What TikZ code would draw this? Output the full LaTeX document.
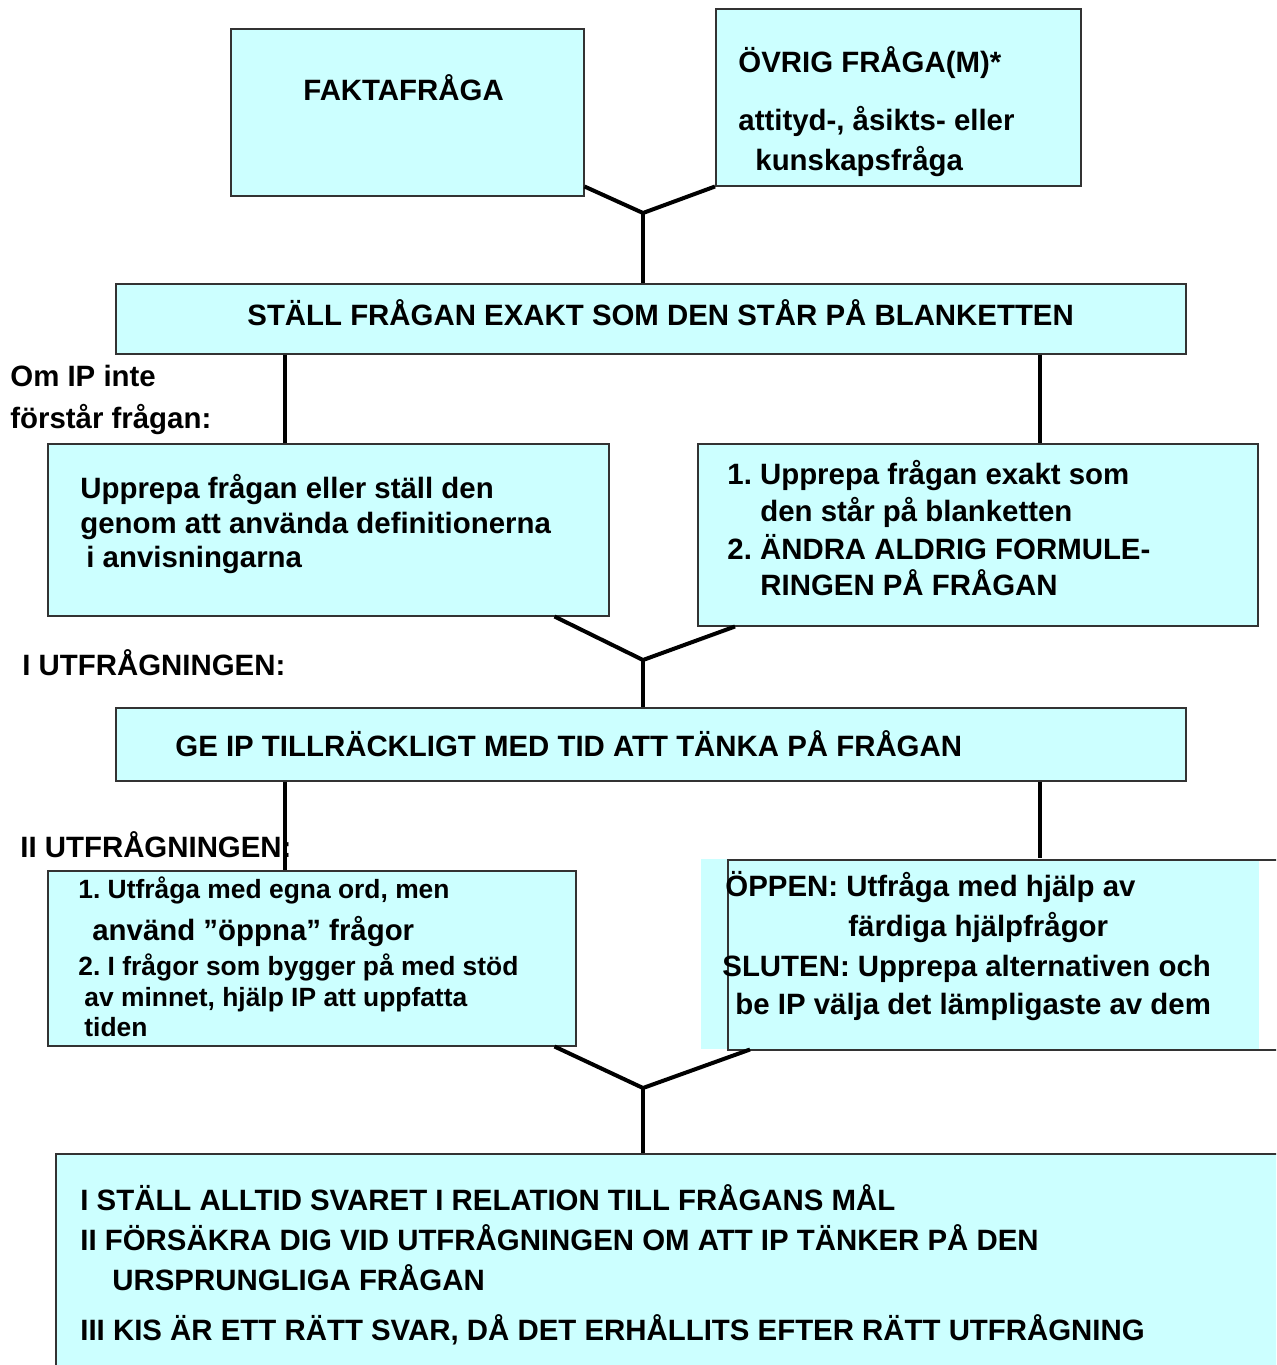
\documentclass[tikz,border=0pt]{standalone}
\usepackage{fontspec}
\setmainfont{Liberation Sans}
\usepackage{tikz}
\usetikzlibrary{positioning}

\definecolor{boxcyan}{RGB}{204,255,255}

\tikzset{
  box/.style={draw=black!80, line width=0.75pt, fill=boxcyan, anchor=north west, inner sep=0pt},
  link/.style={line width=2pt},
  txt/.style={anchor=base west, inner sep=0pt, font=\fontsize{14.7}{17}\selectfont\bfseries},
  small/.style={txt, font=\fontsize{13.2}{15}\selectfont\bfseries}
}

\begin{document}
\frenchspacing
\begin{tikzpicture}[x=0.5pt, y=-0.5pt]
   \useasboundingbox (0,0) rectangle (1276,1365);
   \clip (0,0) rectangle (1276,1365);
   % boxes
   \node[box, minimum width=176.5pt, minimum height=83.5pt] (fakta) at (230,28) {};
   \node[box, minimum width=182.5pt, minimum height=88.5pt] (ovrig) at (715,8) {};
   \node[box, minimum width=535pt, minimum height=35pt] (stall) at (115,283) {};
   \node[box, minimum width=280.5pt, minimum height=86pt] (upprepa) at (47,443) {};
   \node[box, minimum width=280pt, minimum height=91pt] (andra) at (697,443) {};
   \node[box, minimum width=535pt, minimum height=36.5pt] (geip) at (115,707) {};
   \node[box, minimum width=264pt, minimum height=87.5pt] (egna) at (47,870) {};
   \node[box, draw=none, minimum width=279pt, minimum height=95pt] (oppen) at (700,858) {};
   \draw[draw=black!80, line width=0.75pt] (728,860) rectangle (1320,1050);
   \node[box, minimum width=622.5pt, minimum height=125pt] (slut) at (55,1153) {};
   % x positions of the side links
   \coordinate (xl) at (285,0);
   \coordinate (xr) at (1040,0);
   \coordinate (j1) at (643,213);
   \coordinate (j2) at (643,660);
   \coordinate (j3) at (643,1088);
   % connectors
   \draw[link] (fakta.east |- ovrig.south) -- (j1) -- (ovrig.south west);
   \draw[link] (j1) -- (j1 |- stall.north);
   \draw[link] (stall.south -| xl) -- (upprepa.north -| xl);
   \draw[link] (stall.south -| xr) -- (andra.north -| xr);
   \draw[link] ([xshift=-27.5pt]upprepa.south east) -- (j2) -- ([xshift=19pt]andra.south west);
   \draw[link] (j2) -- (j2 |- geip.north);
   \draw[link] (geip.south -| xl) -- (egna.north -| xl);
   \draw[link] (geip.south -| xr) -- (oppen.north -| xr);
   \draw[link] ([xshift=-11pt]egna.south east) -- (j3) -- ([xshift=25pt]oppen.south west);
   \draw[link] (j3) -- (j3 |- slut.north);
   % texts
   \node[txt] (t1) at (303,100) {FAKTAFRÅGA};
   \node[txt] (t2) at (738,72) {ÖVRIG FRÅGA(M)*};
   \node[txt] (t3) at (738,130) {attityd-, åsikts- eller};
   \node[txt] (t4) at (755,170) {kunskapsfråga};
   \node[txt] (t5) at (247,325) {STÄLL FRÅGAN EXAKT SOM DEN STÅR PÅ BLANKETTEN};
   \node[txt] (t6) at (10,386) {Om IP inte};
   \node[txt] (t7) at (10,428) {förstår frågan:};
   \node[txt] (t8) at (80,498) {Upprepa frågan eller ställ den};
   \node[txt] (t9) at (80,533) {genom att använda definitionerna};
   \node[txt] (t10) at (86,567) {i anvisningarna};
   \node[txt] (t11) at (727,484) {1. Upprepa frågan exakt som};
   \node[txt] (t12) at (760,521) {den står på blanketten};
   \node[txt] (t13) at (727,559) {2. ÄNDRA ALDRIG FORMULE-};
   \node[txt] (t14) at (760,595) {RINGEN PÅ FRÅGAN};
   \node[txt] (t15) at (22,675) {I UTFRÅGNINGEN:};
   \node[txt] (t16) at (175,756) {GE IP TILLRÄCKLIGT MED TID ATT TÄNKA PÅ FRÅGAN};
   \node[txt] (t17) at (20,857) {II UTFRÅGNINGEN:};
   \node[small] (t18) at (78,898) {1. Utfråga med egna ord, men};
   \node[txt] (t19) at (92,940) {använd ”öppna” frågor};
   \node[small] (t20) at (78,975) {2. I frågor som bygger på med stöd};
   \node[small] (t21) at (84,1006) {av minnet, hjälp IP att uppfatta};
   \node[small] (t22) at (84,1036) {tiden};
   \node[txt] (t23) at (725,896) {ÖPPEN: Utfråga med hjälp av};
   \node[txt] (t24) at (848,936) {färdiga hjälpfrågor};
   \node[txt] (t25) at (722,976) {SLUTEN: Upprepa alternativen och};
   \node[txt] (t26) at (735,1014) {be IP välja det lämpligaste av dem};
   \node[txt] (t27) at (80,1210) {I STÄLL ALLTID SVARET I RELATION TILL FRÅGANS MÅL};
   \node[txt] (t28) at (80,1250) {II FÖRSÄKRA DIG VID UTFRÅGNINGEN OM ATT IP TÄNKER PÅ DEN};
   \node[txt] (t29) at (112,1290) {URSPRUNGLIGA FRÅGAN};
   \node[txt] (t30) at (80,1340) {III KIS ÄR ETT RÄTT SVAR, DÅ DET ERHÅLLITS EFTER RÄTT UTFRÅGNING};
\end{tikzpicture}
\end{document}
